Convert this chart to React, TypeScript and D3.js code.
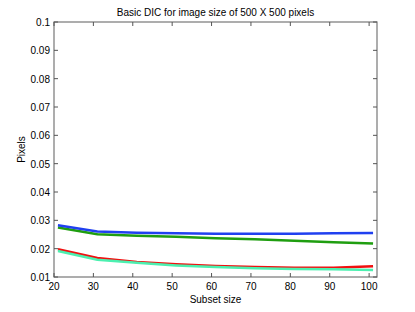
import React, { useEffect, useRef } from 'react';
import * as d3 from 'd3';

const subsetSizes = [21, 31, 41, 51, 61, 71, 81, 91, 101];
const blueSeries = [0.0283, 0.0261, 0.0256, 0.0254, 0.0253, 0.0253, 0.0253, 0.0254, 0.0255];
const greenSeries = [0.0275, 0.0251, 0.0246, 0.0242, 0.0237, 0.0233, 0.0228, 0.0223, 0.0218];
const redSeries = [0.0198, 0.0167, 0.0153, 0.0145, 0.0139, 0.0135, 0.0133, 0.0133, 0.0138];
const cyanSeries = [0.0192, 0.0161, 0.015, 0.0141, 0.0135, 0.0131, 0.0128, 0.0127, 0.0125];
const xTicks = [20, 30, 40, 50, 60, 70, 80, 90, 100];
const yTicks = [0.01, 0.02, 0.03, 0.04, 0.05, 0.06, 0.07, 0.08, 0.09, 0.1];

const seriesList = [
  { name: 'red', values: redSeries, color: '#f01010' },
  { name: 'cyan', values: cyanSeries, color: '#4cf0b0' },
  { name: 'green', values: greenSeries, color: '#1f9e10' },
  { name: 'blue', values: blueSeries, color: '#2040f0' },
];

const App: React.FC = () => {
  const svgRef = useRef<SVGSVGElement | null>(null);

  useEffect(() => {
    if (!svgRef.current) return;
    const width = 415;
    const height = 312;
    const margin = { top: 22, right: 38, bottom: 35, left: 54 };

    const svg = d3.select(svgRef.current);
    svg.selectAll('*').remove();
    svg.attr('width', width).attr('height', height);

    const x = d3.scaleLinear().domain([20, 102]).range([margin.left, width - margin.right]);
    const y = d3.scaleLinear().domain([0.01, 0.1]).range([height - margin.bottom, margin.top]);

    svg.append('rect').attr('width', width).attr('height', height).attr('fill', '#fff');

    const font = 'Helvetica, Arial, "Liberation Sans", sans-serif';
    const x0 = x.range()[0];
    const x1 = x.range()[1];
    const y0 = y.range()[0];
    const y1 = y.range()[1];

    // lines
    const line = d3
      .line<number>()
      .x((_, i) => x(subsetSizes[i]))
      .y((d) => y(d));

    seriesList.forEach((s) => {
      svg
        .append('path')
        .datum(s.values)
        .attr('d', line)
        .attr('fill', 'none')
        .attr('stroke', s.color)
        .attr('stroke-width', 2.5);
    });

    // frame
    svg
      .append('rect')
      .attr('x', x0)
      .attr('y', y1)
      .attr('width', x1 - x0)
      .attr('height', y0 - y1)
      .attr('fill', 'none')
      .attr('stroke', '#777')
      .attr('stroke-width', 1.2);

    const tickLen = 4;
    const ticks = svg.append('g').attr('stroke', '#555').attr('stroke-width', 1);
    xTicks.forEach((t) => {
      ticks.append('line').attr('x1', x(t)).attr('x2', x(t)).attr('y1', y0).attr('y2', y0 - tickLen);
      ticks.append('line').attr('x1', x(t)).attr('x2', x(t)).attr('y1', y1).attr('y2', y1 + tickLen);
    });
    yTicks.forEach((t) => {
      ticks.append('line').attr('x1', x0).attr('x2', x0 + tickLen).attr('y1', y(t)).attr('y2', y(t));
      ticks.append('line').attr('x1', x1).attr('x2', x1 - tickLen).attr('y1', y(t)).attr('y2', y(t));
    });

    svg
      .append('g')
      .selectAll('text')
      .data(xTicks)
      .enter()
      .append('text')
      .attr('x', (d) => x(d))
      .attr('y', y0 + 13)
      .attr('text-anchor', 'middle')
      .style('font-family', font)
      .style('font-size', '10px')
      .text((d) => d);

    svg
      .append('g')
      .selectAll('text')
      .data(yTicks)
      .enter()
      .append('text')
      .attr('x', x0 - 4)
      .attr('y', (d) => y(d) + 4)
      .attr('text-anchor', 'end')
      .style('font-family', font)
      .style('font-size', '10px')
      .text((d) => d3.format('~g')(d));

    svg
      .append('text')
      .attr('x', (x0 + x1) / 2)
      .attr('y', 16)
      .attr('text-anchor', 'middle')
      .style('font-family', font)
      .style('font-size', '10px')
      .text('Basic DIC for image size of 500 X 500 pixels');

    svg
      .append('text')
      .attr('x', (x0 + x1) / 2)
      .attr('y', 303)
      .attr('text-anchor', 'middle')
      .style('font-family', font)
      .style('font-size', '10px')
      .text('Subset size');

    svg
      .append('text')
      .attr('transform', `translate(25, ${(y0 + y1) / 2}) rotate(-90)`)
      .attr('text-anchor', 'middle')
      .style('font-family', font)
      .style('font-size', '10px')
      .text('Pixels');
  }, []);

  return (
    <div style={{ position: 'absolute', left: 0, top: 0 }}>
      <svg ref={svgRef}></svg>
    </div>
  );
};

export default App;
